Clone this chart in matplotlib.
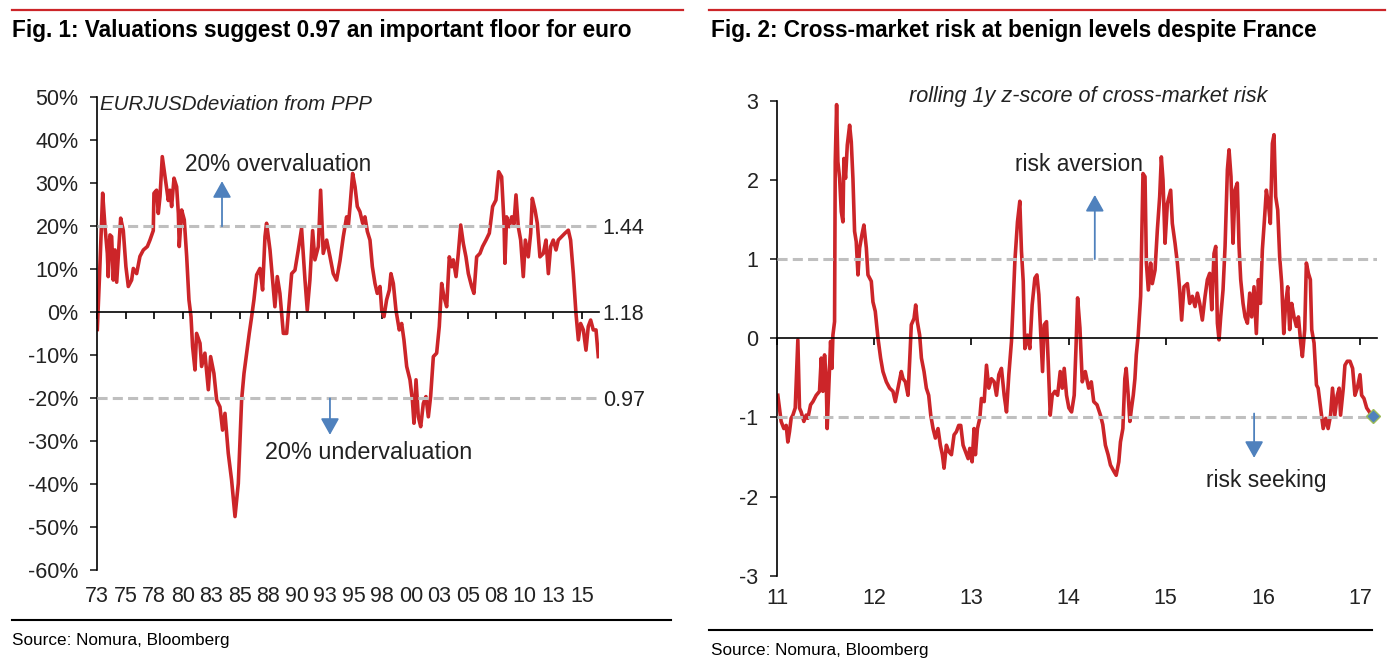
import matplotlib
matplotlib.use("Agg")
import matplotlib.pyplot as plt
from matplotlib.lines import Line2D

plt.rcParams['font.family'] = ['Liberation Sans', 'DejaVu Sans']
plt.rcParams['axes.unicode_minus'] = False

# Fig. 1 data: EURUSD deviation from PPP (%)
eur_years = [
    1973.00, 1973.18, 1973.47, 1973.67, 1973.88, 1973.96, 1974.11, 1974.26, 1974.40, 1974.55,
    1974.70, 1975.05, 1975.28, 1975.51, 1975.72, 1976.01, 1976.16, 1976.45, 1976.74, 1977.04,
    1977.39, 1977.62, 1977.91, 1977.97, 1978.20, 1978.35, 1978.50, 1978.70, 1978.94, 1979.23,
    1979.37, 1979.52, 1979.73, 1979.96, 1980.11, 1980.19, 1980.40, 1980.63, 1980.84, 1981.04,
    1981.22, 1981.36, 1981.57, 1981.71, 1982.01, 1982.15, 1982.44, 1982.74, 1982.94, 1983.23,
    1983.47, 1983.76, 1983.99, 1984.20, 1984.49, 1984.78, 1985.08, 1985.37, 1985.66, 1985.87,
    1986.10, 1986.33, 1986.54, 1986.74, 1986.98, 1987.27, 1987.50, 1987.71, 1987.85, 1988.15,
    1988.38, 1988.58, 1988.79, 1989.02, 1989.32, 1989.61, 1989.81, 1990.05, 1990.34, 1990.63,
    1990.92, 1991.22, 1991.42, 1991.65, 1991.89, 1992.09, 1992.39, 1992.59, 1992.82, 1993.12,
    1993.41, 1993.70, 1993.99, 1994.29, 1994.58, 1994.87, 1995.02, 1995.17, 1995.40, 1995.61,
    1995.81, 1996.04, 1996.28, 1996.48, 1996.69, 1996.92, 1997.13, 1997.36, 1997.56, 1997.80,
    1997.95, 1998.15, 1998.38, 1998.62, 1998.76, 1998.97, 1999.20, 1999.49, 1999.70, 1999.90,
    2000.14, 2000.43, 2000.64, 2000.78, 2000.96, 2001.16, 2001.37, 2001.60, 2001.83, 2002.04,
    2002.24, 2002.48, 2002.77, 2003.00, 2003.21, 2003.41, 2003.65, 2003.88, 2004.09, 2004.23,
    2004.47, 2004.67, 2004.88, 2005.11, 2005.34, 2005.55, 2005.84, 2006.04, 2006.28, 2006.57,
    2006.80, 2007.10, 2007.39, 2007.68, 2007.97, 2008.21, 2008.47, 2008.68, 2008.76, 2008.91,
    2009.14, 2009.35, 2009.55, 2009.73, 2009.93, 2010.14, 2010.37, 2010.55, 2010.81, 2011.02,
    2011.16, 2011.40, 2011.60, 2011.83, 2012.13, 2012.36, 2012.57, 2012.77, 2013.00, 2013.24,
    2013.44, 2013.73, 2014.03, 2014.32, 2014.52, 2014.76, 2014.99, 2015.20, 2015.40, 2015.64,
    2015.87, 2016.07, 2016.28, 2016.51, 2016.75, 2016.95,
]
eur_dev = [
    -4.0, 7.5, 27.7, 20.0, 13.7, 8.3, 18.0, 17.6, 7.5, 14.5,
    7.0, 21.9, 19.0, 10.6, 6.0, 7.5, 10.2, 9.0, 13.0, 14.5,
    15.3, 16.8, 19.0, 27.7, 28.4, 23.0, 26.9, 36.2, 31.5, 26.0,
    28.4, 24.6, 31.2, 29.2, 23.0, 15.3, 23.8, 21.5, 13.0, 2.9,
    -1.0, -8.0, -13.4, -4.9, -7.2, -12.6, -9.5, -18.0, -10.3, -14.2,
    -20.4, -22.0, -27.4, -23.5, -32.8, -39.0, -47.5, -39.8, -20.4, -14.2,
    -9.5, -4.9, -1.0, 2.9, 8.7, 10.2, 5.2, 17.6, 20.7, 14.5,
    7.5, 1.3, 8.3, 4.4, -4.9, -4.9, 1.3, 9.0, 9.8, 14.5,
    19.5, 7.5, 0.5, 7.5, 19.0, 12.2, 15.3, 28.4, 13.7, 16.8,
    13.0, 9.0, 7.5, 12.0, 17.6, 22.2, 20.0, 24.6, 32.3, 29.2,
    24.6, 23.4, 20.7, 22.2, 18.8, 16.8, 10.6, 6.7, 4.4, 6.0,
    0.5, -1.0, 2.9, 5.2, 9.0, 6.7, 0.5, -4.1, -2.6, -6.4,
    -12.6, -15.7, -20.4, -25.8, -15.7, -24.3, -26.6, -21.2, -19.6, -24.3,
    -19.6, -10.3, -9.5, -3.3, 6.7, 3.6, 1.3, 12.9, 10.6, 12.2,
    8.3, 13.7, 20.3, 16.0, 12.9, 9.0, 6.0, 4.4, 12.9, 13.7,
    15.3, 16.8, 18.4, 24.6, 26.1, 32.7, 31.5, 20.7, 11.4, 22.2,
    19.9, 22.2, 20.5, 27.3, 19.9, 16.8, 8.3, 16.8, 12.9, 18.4,
    26.5, 23.8, 20.7, 12.9, 13.7, 16.8, 9.0, 15.3, 16.8, 14.5,
    16.8, 17.6, 18.4, 19.1, 16.8, 9.0, -0.2, -6.4, -2.6, -4.1,
    -8.8, -3.3, -1.8, -4.1, -4.1, -10.3,
]
eur_xticks = [1973 + 2.5 * i for i in range(18)]
eur_xlabels = ['73', '75', '78', '80', '83', '85', '88', '90', '93', '95',
               '98', '00', '03', '05', '08', '10', '13', '15']
eur_yticks = [-60, -50, -40, -30, -20, -10, 0, 10, 20, 30, 40, 50]
eur_ylabels = ['-60%', '-50%', '-40%', '-30%', '-20%', '-10%', '0%',
               '10%', '20%', '30%', '40%', '50%']
eur_levels = [20, -20]
eur_level_labels = [(20, '1.44'), (0, '1.18'), (-20, '0.97')]

# Fig. 2 data: rolling 1y z-score of cross-market risk
risk_years = [
    2011.007, 2011.024, 2011.041, 2011.069, 2011.093, 2011.110, 2011.127, 2011.144, 2011.162, 2011.186,
    2011.213, 2011.230, 2011.247, 2011.275, 2011.299, 2011.316, 2011.344, 2011.368, 2011.402, 2011.436,
    2011.454, 2011.471, 2011.488, 2011.505, 2011.515, 2011.533, 2011.550, 2011.564, 2011.574, 2011.591,
    2011.598, 2011.612, 2011.625, 2011.643, 2011.660, 2011.677, 2011.687, 2011.704, 2011.722, 2011.746,
    2011.763, 2011.780, 2011.797, 2011.814, 2011.832, 2011.849, 2011.873, 2011.893, 2011.918, 2011.935,
    2011.969, 2011.986, 2012.010, 2012.038, 2012.065, 2012.089, 2012.124, 2012.158, 2012.192, 2012.216,
    2012.244, 2012.278, 2012.296, 2012.320, 2012.347, 2012.364, 2012.381, 2012.409, 2012.426, 2012.443,
    2012.467, 2012.485, 2012.512, 2012.536, 2012.560, 2012.581, 2012.605, 2012.629, 2012.656, 2012.680,
    2012.701, 2012.718, 2012.742, 2012.766, 2012.794, 2012.821, 2012.845, 2012.869, 2012.890, 2012.914,
    2012.938, 2012.966, 2012.983, 2013.007, 2013.027, 2013.041, 2013.062, 2013.086, 2013.103, 2013.131,
    2013.155, 2013.179, 2013.206, 2013.234, 2013.258, 2013.282, 2013.309, 2013.337, 2013.361, 2013.385,
    2013.412, 2013.430, 2013.447, 2013.474, 2013.498, 2013.515, 2013.533, 2013.550, 2013.577, 2013.601,
    2013.625, 2013.653, 2013.674, 2013.694, 2013.715, 2013.732, 2013.749, 2013.773, 2013.790, 2013.811,
    2013.832, 2013.859, 2013.887, 2013.914, 2013.935, 2013.955, 2013.979, 2014.003, 2014.031, 2014.058,
    2014.076, 2014.093, 2014.117, 2014.141, 2014.172, 2014.207, 2014.234, 2014.259, 2014.293, 2014.328,
    2014.352, 2014.379, 2014.407, 2014.431, 2014.466, 2014.490, 2014.517, 2014.534, 2014.559, 2014.579,
    2014.593, 2014.614, 2014.631, 2014.648, 2014.666, 2014.683, 2014.697, 2014.717,
    2014.742, 2014.766, 2014.787, 2014.801, 2014.821, 2014.845, 2014.862, 2014.890, 2014.914, 2014.938,
    2014.955, 2014.972, 2014.993, 2015.017, 2015.051, 2015.068, 2015.096, 2015.120, 2015.144, 2015.164,
    2015.188, 2015.223, 2015.247, 2015.274, 2015.302, 2015.326, 2015.350, 2015.377, 2015.405, 2015.429,
    2015.453, 2015.474, 2015.497, 2015.515, 2015.532, 2015.549, 2015.566, 2015.590, 2015.611, 2015.635,
    2015.652, 2015.672, 2015.693, 2015.713, 2015.737, 2015.755, 2015.772, 2015.796, 2015.817, 2015.841,
    2015.865, 2015.885, 2015.909, 2015.933, 2015.954, 2015.975, 2015.995, 2016.016, 2016.036, 2016.057,
    2016.077, 2016.098, 2016.115, 2016.132, 2016.153, 2016.173, 2016.194, 2016.215, 2016.235, 2016.256,
    2016.276, 2016.297, 2016.321, 2016.345, 2016.366, 2016.390, 2016.407, 2016.431, 2016.448, 2016.469,
    2016.489, 2016.503, 2016.527,
    2016.552, 2016.569, 2016.586, 2016.603, 2016.621, 2016.648, 2016.672, 2016.697, 2016.717, 2016.741,
    2016.766, 2016.786, 2016.800, 2016.828, 2016.845, 2016.869, 2016.897, 2016.924, 2016.948, 2016.972,
    2017.000, 2017.017, 2017.041, 2017.069, 2017.097, 2017.121, 2017.138,
]
risk_z = [
    -0.72, -0.88, -1.05, -1.14, -1.10, -1.31, -1.18, -1.01, -0.97, -0.88,
    -0.02, -0.88, -0.93, -1.05, -0.97, -1.01, -0.84, -0.80, -0.72, -0.67,
    -0.25, -0.67, -0.21, -0.51, -1.14, -0.59, -0.04, -0.38, 0.04, 0.21,
    2.23, 2.95, 2.23, 2.02, 1.60, 1.47, 2.27, 2.02, 2.44, 2.69,
    2.48, 2.02, 1.35, 1.22, 0.80, 1.14, 1.31, 1.43, 1.14, 0.80,
    0.72, 0.46, 0.34, 0.00, -0.25, -0.42, -0.55, -0.63, -0.67, -0.80,
    -0.63, -0.42, -0.51, -0.55, -0.72, -0.29, 0.17, 0.25, 0.42, 0.21,
    0.04, -0.25, -0.42, -0.63, -0.72, -0.97, -1.14, -1.26, -1.14, -1.35,
    -1.47, -1.64, -1.35, -1.43, -1.47, -1.22, -1.18, -1.10, -1.10, -1.35,
    -1.43, -1.52, -1.39, -1.56, -1.14, -1.47, -1.14, -1.01, -0.76, -0.80,
    -0.34, -0.63, -0.51, -0.55, -0.72, -0.46, -0.38, -0.72, -0.93, -0.46,
    -0.04, 0.46, 0.97, 1.47, 1.73, 1.10, 0.72, -0.13, 0.04, -0.13,
    0.42, 0.76, 0.80, 0.55, 0.00, -0.42, 0.17, 0.21, -0.29, -0.97,
    -0.72, -0.67, -0.72, -0.42, -0.63, -0.38, -0.72, -0.88, -0.93, -0.72,
    -0.13, 0.51, 0.13, -0.55, -0.42, -0.63, -0.55, -0.80, -0.84, -0.97,
    -1.09, -1.35, -1.47, -1.60, -1.68, -1.73, -1.56, -1.31, -1.14, -0.51,
    -0.38, -0.72, -1.05, -0.88, -0.72, -0.51, -0.21, 0.04,
    0.53, 2.08, 2.04, 0.95, 0.61, 0.95, 0.69, 0.86, 1.37, 1.79,
    2.29, 2.00, 1.20, 1.70, 1.87, 1.45, 1.20, 0.95, 0.61, 0.23,
    0.65, 0.69, 0.44, 0.53, 0.40, 0.57, 0.44, 0.23, 0.53, 0.74,
    0.82, 0.36, 1.07, 1.16, 0.19, -0.02, 0.27, 0.61, 1.16, 2.13,
    2.38, 2.04, 1.20, 1.87, 1.96, 1.16, 0.74, 0.44, 0.27, 0.19,
    0.57, 0.27, 0.65, 0.06, 0.74, 0.44, 1.12, 1.49, 1.87, 1.70,
    1.45, 2.46, 2.57, 1.79, 1.62, 1.03, 0.69, 0.06, 0.44, 0.65,
    0.11, 0.44, 0.27, 0.15, 0.27, -0.06, -0.23, 0.11, 0.95, 0.82,
    0.74, 0.11, -0.06,
    -0.59, -0.63, -0.80, -0.97, -1.14, -1.01, -1.14, -0.97, -0.63, -0.97,
    -0.72, -0.63, -0.97, -0.63, -0.34, -0.29, -0.29, -0.38, -0.72, -0.63,
    -0.46, -0.72, -0.76, -0.88, -0.93, -1.01, -0.98,
]
risk_xticks = [2011, 2012, 2013, 2014, 2015, 2016, 2017]
risk_xlabels = ['11', '12', '13', '14', '15', '16', '17']
risk_yticks = [-3, -2, -1, 0, 1, 2, 3]
risk_levels = [1, -1]

RED = '#cc2529'
GREY = '#bfbfbf'
BLUE = '#4f81bd'
INK = '#222222'

fig = plt.figure(figsize=(13.94, 6.58), dpi=100)


def style_axes(ax, xticks, xlabels, yticks, ylabels, label_pad):
    for s in ['top', 'right']:
        ax.spines[s].set_visible(False)
    ax.spines['bottom'].set_position(('data', 0))
    ax.spines['left'].set_linewidth(1.2)
    ax.spines['bottom'].set_linewidth(1.2)
    ax.set_xticks(xticks)
    ax.tick_params(axis='x', direction='out', length=5, width=1.2, labelbottom=False)
    ax.set_yticks(yticks, ylabels)
    ax.tick_params(axis='y', direction='out', length=5, width=1.2, pad=8.5,
                   labelsize=15.5, colors=INK)
    sec = ax.secondary_xaxis('bottom')
    sec.set_xticks(xticks, xlabels)
    sec.tick_params(length=0, pad=label_pad, labelsize=15.5, colors=INK)
    sec.spines['bottom'].set_visible(False)


def arrow(ax, base, tip):
    ax.annotate('', xy=tip, xytext=base,
                arrowprops=dict(arrowstyle='-|>,head_length=0.5,head_width=0.28',
                                color=BLUE, lw=1.3, mutation_scale=20,
                                shrinkA=0, shrinkB=0))


# ---- Fig. 1 ----
ax1 = fig.add_axes([0.0698, 0.1333, 0.3598, 0.7188])
ax1.set_xlim(1973, 2017.0)
ax1.set_ylim(-60, 50)
ax1.plot(eur_years, eur_dev, color=RED, lw=2.6, zorder=2)
for lv in eur_levels:
    ax1.axhline(lv, color=GREY, lw=2.2, dashes=(3.3, 1.7), zorder=3)
style_axes(ax1, eur_xticks, eur_xlabels, eur_yticks, eur_ylabels, 11)
for lv, txt in eur_level_labels:
    ax1.text(2017.35, lv - 0.6, txt, fontsize=15.5, va='center', ha='left',
             color=INK, clip_on=False)
ax1.text(1973.25, 48.3, 'EURJUSDdeviation from PPP', fontsize=14.8, style='italic',
         va='center', ha='left', color=INK)
ax1.text(1980.7, 34.3, '20% overvaluation', fontsize=16.3, va='center', ha='left',
         color=INK)
ax1.text(1987.7, -32.7, '20% undervaluation', fontsize=16.8, va='center', ha='left',
         color=INK)
arrow(ax1, (1983.94, 20), (1983.94, 30.5))
arrow(ax1, (1993.41, -20), (1993.41, -28.5))

# ---- Fig. 2 ----
ax2 = fig.add_axes([0.5575, 0.1248, 0.4303, 0.7222])
ax2.set_xlim(2011, 2017.175)
ax2.set_ylim(-3, 3)
ax2.plot(risk_years, risk_z, color=RED, lw=2.6, zorder=2)
ax2.plot(risk_years[-1:], risk_z[-1:], marker='D', ms=7, color=BLUE,
         mec='#9bbb59', mew=1.0, ls='none', zorder=4, clip_on=False)
for lv in risk_levels:
    ax2.axhline(lv, color=GREY, lw=2.2, dashes=(3.3, 1.7), zorder=3)
style_axes(ax2, risk_xticks, risk_xlabels, risk_yticks,
           [str(v) for v in risk_yticks], 9)
ax2.text(2014.2, 3.05, 'rolling 1y z-score of cross-market risk', fontsize=15.6,
         style='italic', va='center', ha='center', color=INK)
ax2.text(2013.45, 2.19, 'risk aversion', fontsize=16.4, va='center', ha='left',
         color=INK)
ax2.text(2015.41, -1.79, 'risk seeking', fontsize=16.4, va='center', ha='left',
         color=INK)
arrow(ax2, (2014.27, 1.0), (2014.27, 1.81))
arrow(ax2, (2015.91, -0.95), (2015.91, -1.51))

# ---- titles, rules, sources ----
W, H = 1394.0, 658.0


def hline(x0, x1, y, color, lw):
    fig.add_artist(Line2D([x0 / W, x1 / W], [1 - y / H, 1 - y / H],
                          transform=fig.transFigure, color=color, lw=lw))


hline(12, 683, 10, RED, 1.6)
hline(709, 1385, 10, RED, 1.6)
hline(12, 671, 620, 'black', 1.5)
hline(709, 1372, 630, 'black', 1.5)

fig.text(12 / W, 1 - 31 / H, 'Fig. 1: Valuations suggest 0.97 an important floor for euro',
         fontsize=16.3, fontweight='bold', va='center', ha='left')
fig.text(711 / W, 1 - 31 / H, 'Fig. 2: Cross-market risk at benign levels despite France',
         fontsize=16.3, fontweight='bold', va='center', ha='left')
fig.text(12 / W, 1 - 640 / H, 'Source: Nomura, Bloomberg', fontsize=12.3,
         va='center', ha='left')
fig.text(711 / W, 1 - 650 / H, 'Source: Nomura, Bloomberg', fontsize=12.3,
         va='center', ha='left')

fig.savefig('out.png', dpi=100)
